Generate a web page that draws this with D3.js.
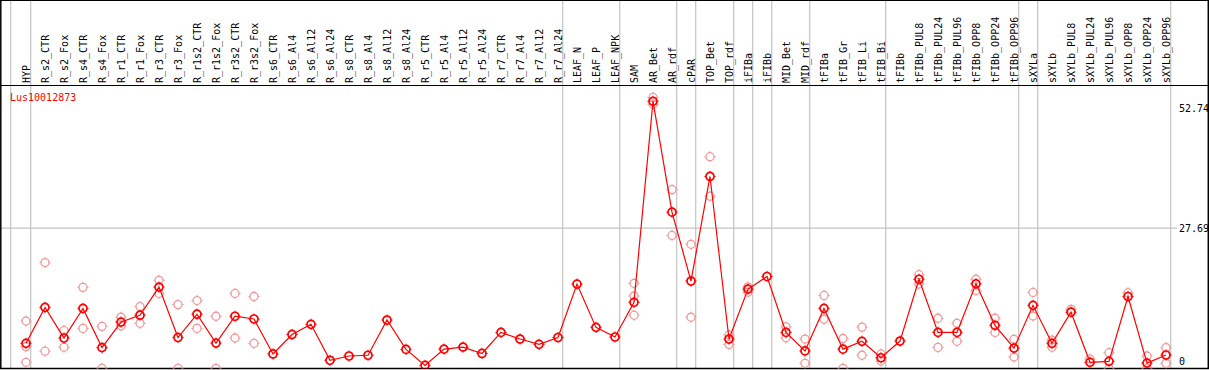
<!DOCTYPE html>
<html><head><meta charset="utf-8">
<script src="https://cdn.jsdelivr.net/npm/d3@7/dist/d3.min.js"></script>
<style>body{margin:0;background:#fff}svg{display:block}text{font-family:"DejaVu Sans Mono",monospace;font-size:10px}</style>
</head><body><svg id="c" width="1209" height="370"></svg>
<script>
const categories=["HYP","R_s2_CTR","R_s2_Fox","R_s4_CTR","R_s4_Fox","R_r1_CTR","R_r1_Fox","R_r3_CTR","R_r3_Fox","R_r1s2_CTR","R_r1s2_Fox","R_r3s2_CTR","R_r3s2_Fox","R_s6_CTR","R_s6_Al4","R_s6_Al12","R_s6_Al24","R_s8_CTR","R_s8_Al4","R_s8_Al12","R_s8_Al24","R_r5_CTR","R_r5_Al4","R_r5_Al12","R_r5_Al24","R_r7_CTR","R_r7_Al4","R_r7_Al12","R_r7_Al24","LEAF_N","LEAF_P","LEAF_NPK","SAM","AR_Bet","AR_rdf","cPAR","TOP_Bet","TOP_rdf","iFIBa","iFIBb","MID_Bet","MID_rdf","tFIBa","tFIB_Gr","tFIB_Li","tFIB_Bi","tFIBb","tFIBb_PUL8","tFIBb_PUL24","tFIBb_PUL96","tFIBb_OPP8","tFIBb_OPP24","tFIBb_OPP96","sXYLa","sXYLb","sXYLb_PUL8","sXYLb_PUL24","sXYLb_PUL96","sXYLb_OPP8","sXYLb_OPP24","sXYLb_OPP96"];
const meanValues=[4.95,12.05,6.0,11.85,4.1,9.15,10.5,16.05,6.1,10.7,5.0,10.3,9.75,2.85,6.7,8.7,1.6,2.45,2.6,9.55,3.75,0.6,3.8,4.2,2.95,7.1,5.8,4.75,6.1,16.65,8.1,6.2,13.05,52.74,30.85,17.25,37.9,5.8,15.65,18.15,7.1,3.45,11.85,3.8,5.35,2.1,5.4,17.6,7.1,7.1,16.7,8.5,4.0,12.45,4.95,11.1,1.2,1.4,14.2,1.05,2.65];
const rep1=[9.35,20.9,7.5,16.0,8.3,10.1,12.2,17.4,12.6,13.4,10.3,14.8,14.2,null,null,null,null,null,null,null,null,null,null,null,null,null,null,null,null,null,null,null,16.8,53.5,35.3,24.5,41.8,6.6,16.1,null,8.2,5.8,14.4,5.9,8.15,2.85,null,18.5,9.9,8.9,17.6,9.9,5.75,15.0,5.6,11.65,1.85,3.1,14.95,2.45,4.1];
const rep2=[4.3,3.4,4.2,7.9,0,8.4,8.9,14.8,0,7.9,0,6.0,4.95,null,null,null,null,null,null,null,null,null,null,null,null,null,null,null,null,null,null,null,14.3,52.15,26.25,10.1,34.0,4.75,15.05,null,6.05,1.0,9.7,0,2.6,1.45,null,16.65,4.15,5.35,15.4,7.1,2.25,10.35,4.2,null,null,0,null,0,1.0];
const rep3=[1.2,null,null,null,null,null,null,null,null,null,null,null,null,null,null,null,null,null,null,null,null,null,null,null,null,null,null,null,null,null,null,null,10.5,null,null,null,null,null,null,null,null,null,null,null,null,null,null,null,null,null,null,null,null,null,null,null,null,null,null,null,null];
const groupEnds=["HYP","R_r7_Al24","LEAF_NPK","AR_rdf","cPAR","TOP_rdf","iFIBa","iFIBb","MID_rdf","tFIB_Bi","tFIBb_OPP96","sXYLa","sXYLb_OPP96"];
const tickValues=[0,27.69,52.74];
const gridValues=[27.69];
const geneName="Lus10012873";

(function(){
const svg=d3.select("#c");
const W=1209,H=370,plotTop=85.5,plotBottom=368.4;
const x=d3.scalePoint().domain(categories).range([26,1166]);
const y=d3.scaleLinear().domain([0,52.74]).range([plotBottom,101.3]);

svg.append("rect").attr("width",W).attr("height",H).attr("fill","#fff");
const seps=[10.7].concat(groupEnds.map(c=>x(c)+4.7));
svg.selectAll("line.sep").data(seps).enter().append("line")
 .attr("x1",d=>d).attr("x2",d=>d).attr("y1",0).attr("y2",plotBottom)
 .attr("stroke","#c4c4c4").attr("stroke-width",1.2);
svg.selectAll("line.grid").data(gridValues).enter().append("line")
 .attr("x1",1).attr("x2",1177).attr("y1",d=>y(d)).attr("y2",d=>y(d))
 .attr("stroke","#c4c4c4").attr("stroke-width",1.2);
svg.append("line").attr("x1",0).attr("x2",W).attr("y1",0.5).attr("y2",0.5).attr("stroke","#000");
svg.append("line").attr("x1",0).attr("x2",W).attr("y1",plotTop).attr("y2",plotTop).attr("stroke","#000").attr("stroke-width",1.2);
svg.append("line").attr("x1",0).attr("x2",W).attr("y1",plotBottom).attr("y2",plotBottom).attr("stroke","#000").attr("stroke-width",1.5);
svg.append("line").attr("x1",0.8).attr("x2",0.8).attr("y1",0).attr("y2",plotBottom).attr("stroke","#000").attr("stroke-width",1.5);
svg.append("line").attr("x1",1208.3).attr("x2",1208.3).attr("y1",0).attr("y2",plotBottom).attr("stroke","#000").attr("stroke-width",1.5);

svg.selectAll("text.col").data(categories).enter().append("text")
 .attr("transform",d=>`translate(${x(d)+4},83) rotate(-90)`)
 .attr("text-anchor","start").attr("fill","#000").text(d=>d);

const tickY=v=>v===0?365:(v===52.74?111.5:y(v)+3.8);
svg.selectAll("text.tick").data(tickValues).enter().append("text")
 .attr("x",1179).attr("y",tickY).attr("fill","#000").text(d=>String(d));

svg.append("text").attr("x",10).attr("y",101).attr("fill","#ff0000").text(geneName);

svg.append("clipPath").attr("id","pc").append("rect").attr("x",1).attr("y",plotTop).attr("width",1207).attr("height",plotBottom-plotTop);
const g=svg.append("g").attr("clip-path","url(#pc)");

function marker(sel,color,sw){
  const r=4;
  sel.append("circle").attr("r",r).attr("fill","none").attr("stroke",color).attr("stroke-width",sw);
  const t=[[0,-1],[0,1],[-1,0],[1,0]];
  t.forEach(a=>sel.append("line").attr("x1",a[0]*r).attr("y1",a[1]*r).attr("x2",a[0]*(r+1.6)).attr("y2",a[1]*(r+1.6)).attr("stroke",color).attr("stroke-width",1));
}
const reps=[];
[rep1,rep2,rep3].forEach(arr=>arr.forEach((v,i)=>{if(v!==null)reps.push({c:categories[i],v});}));
g.selectAll("g.rep").data(reps).enter().append("g")
 .attr("transform",d=>`translate(${x(d.c)},${y(d.v)})`).each(function(){marker(d3.select(this),"#ee9999",1.3);});

const line=d3.line().x((d,i)=>x(categories[i])).y(d=>y(d));
g.append("path").datum(meanValues).attr("d",line).attr("fill","none").attr("stroke","#ff0000").attr("stroke-width",1.2);
g.selectAll("g.mean").data(meanValues).enter().append("g")
 .attr("transform",(d,i)=>`translate(${x(categories[i])},${y(d)})`).each(function(){marker(d3.select(this),"#ff0000",1.7);});
})();
</script></body></html>
